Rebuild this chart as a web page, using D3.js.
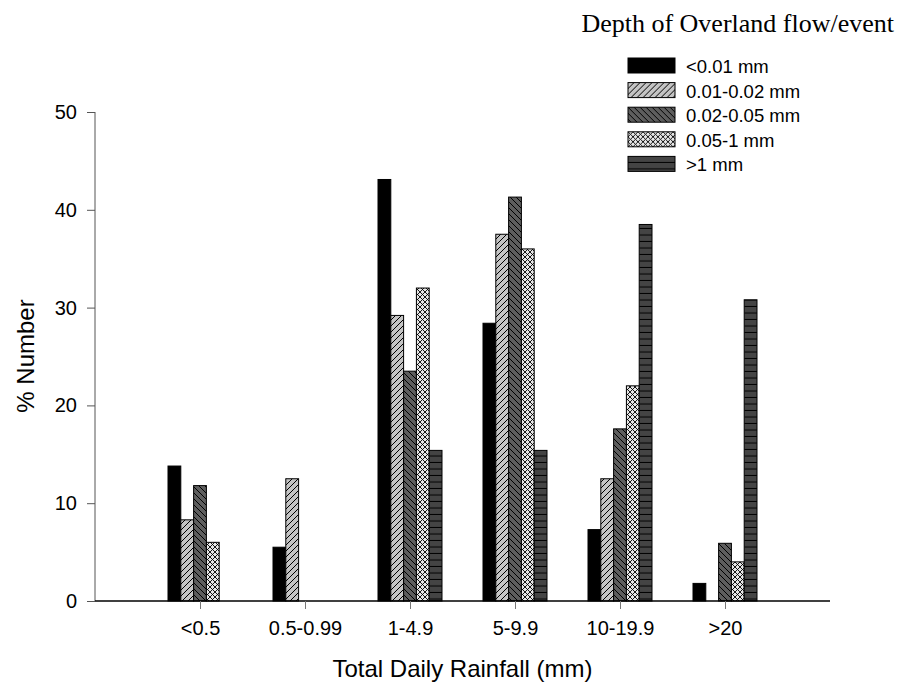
<!DOCTYPE html>
<html>
<head>
<meta charset="utf-8">
<script src="https://cdn.jsdelivr.net/npm/d3@7"></script>
<style>
  body { margin: 0; background: #fff; }
  text { font-family: Arial, "Liberation Sans", sans-serif; }
</style>
</head>
<body>
<div id="chart"></div>
<script>
// rainfall classes on the x axis
const categories = ["<0.5", "0.5-0.99", "1-4.9", "5-9.9", "10-19.9", ">20"]
// depth classes (series)
const seriesNames = ["<0.01 mm", "0.01-0.02 mm", "0.02-0.05 mm", "0.05-1 mm", ">1 mm"]
const lt001 = [13.8, 5.5, 43.1, 28.4, 7.3, 1.8]
const d001_002 = [8.3, 12.5, 29.2, 37.5, 12.5, 0]
const d002_005 = [11.8, 0, 23.5, 41.3, 17.6, 5.9]
const d005_1 = [6.0, 0, 32.0, 36.0, 22.0, 4.0]
const gt1 = [0, 0, 15.4, 15.4, 38.5, 30.8]
const yTicks = [0, 10, 20, 30, 40, 50]

const seriesValues = [lt001, d001_002, d002_005, d005_1, gt1]
const fills = ["url(#p0)", "url(#p1)", "url(#p2)", "url(#p3)", "url(#p4)"]

let dims = {
    width: 897,
    height: 683,
    margin: { top: 112, bottom: 82, left: 95, right: 67 }
}

const svg = d3.select("#chart").append("svg")
    .attr("width", dims.width)
    .attr("height", dims.height)

// fill patterns
const defs = svg.append("defs")
function pattern(id, size, bg) {
    const p = defs.append("pattern")
        .attr("id", id)
        .attr("patternUnits", "userSpaceOnUse")
        .attr("width", size).attr("height", size)
    p.append("rect").attr("width", size).attr("height", size).attr("fill", bg)
    return p
}
pattern("p0", 6, "#000")
pattern("p1", 6, "#c4c4c4")
    .append("path").attr("d", "M-1,7 L7,-1 M-1,1 L1,-1 M5,7 L7,5")
    .attr("stroke", "#000").attr("stroke-width", 1)
pattern("p2", 6, "#5e5e5e")
    .append("path").attr("d", "M-1,-1 L7,7 M5,-1 L7,1 M-1,5 L1,7")
    .attr("stroke", "#000").attr("stroke-width", 1)
pattern("p3", 5, "#e6e6e6")
    .append("path").attr("d", "M0,0 L5,5 M5,0 L0,5")
    .attr("stroke", "#000").attr("stroke-width", 0.9)
pattern("p4", 6.5, "#444")
    .append("path").attr("d", "M0,6 L6.5,6")
    .attr("stroke", "#000").attr("stroke-width", 1)

const w = dims.width - dims.margin.left - dims.margin.right
const h = dims.height - dims.margin.top - dims.margin.bottom

const container = svg.append("g")
    .attr("transform", `translate(${dims.margin.left},${dims.margin.top})`)

const xScale = d3.scalePoint()
    .domain(categories)
    .range([0, w])
    .padding(1)

const inner = d3.scaleBand()
    .domain(d3.range(seriesNames.length))
    .range([-32, 32])

const yScale = d3.scaleLinear()
    .domain([0, 50])
    .range([h, 0])

// bars
seriesValues.forEach((vals, si) => {
    container.append("g")
        .selectAll("rect")
        .data(vals.map((v, i) => ({ cat: categories[i], v: v })).filter(d => d.v > 0))
        .enter()
        .append("rect")
        .attr("x", d => xScale(d.cat) + inner(si))
        .attr("width", inner.bandwidth())
        .attr("y", d => yScale(d.v))
        .attr("height", d => h - yScale(d.v))
        .attr("fill", fills[si])
        .attr("stroke", "#000")
        .attr("stroke-width", 1)
})

// y axis
const yAxis = d3.axisLeft(yScale).tickValues(yTicks).tickSize(8).tickPadding(10)
const yg = container.append("g").call(yAxis)
yg.select(".domain").attr("stroke", "#555").attr("d", `M0,${h}V0`)
yg.selectAll(".tick line").attr("stroke", "#555")
yg.selectAll("text").attr("font-size", "20px").attr("fill", "#000")

// x axis
const xAxis = d3.axisBottom(xScale).tickSize(8).tickPadding(12)
const xg = container.append("g")
    .attr("transform", `translate(0,${h})`)
    .call(xAxis)
xg.select(".domain").attr("stroke", "#000").attr("stroke-width", 1.5).attr("d", `M0,0H${w}`)
xg.selectAll(".tick line").attr("stroke", "#777")
xg.selectAll("text").attr("font-size", "20px").attr("fill", "#000")

// axis titles
svg.append("text")
    .attr("x", dims.margin.left + w / 2).attr("y", 677)
    .attr("text-anchor", "middle")
    .attr("font-size", "24px")
    .text("Total Daily Rainfall (mm)")

svg.append("text")
    .attr("transform", "rotate(-90)")
    .attr("x", -356).attr("y", 34)
    .attr("text-anchor", "middle")
    .attr("font-size", "24px")
    .text("% Number")

// legend
svg.append("text")
    .attr("x", 894).attr("y", 32)
    .attr("text-anchor", "end")
    .style("font-family", "'Liberation Serif', 'Times New Roman', serif")
    .attr("font-size", "26px")
    .text("Depth of Overland flow/event")

const legend = svg.append("g").attr("transform", "translate(628,58)")
seriesNames.forEach((name, i) => {
    const row = legend.append("g").attr("transform", `translate(0,${i * 24.6})`)
    row.append("rect")
        .attr("width", 47).attr("height", 15)
        .attr("fill", fills[i])
        .attr("stroke", "#000")
    row.append("text")
        .attr("x", 58).attr("y", 15)
        .attr("font-size", "18.5px")
        .text(name)
})
</script>
</body>
</html>
